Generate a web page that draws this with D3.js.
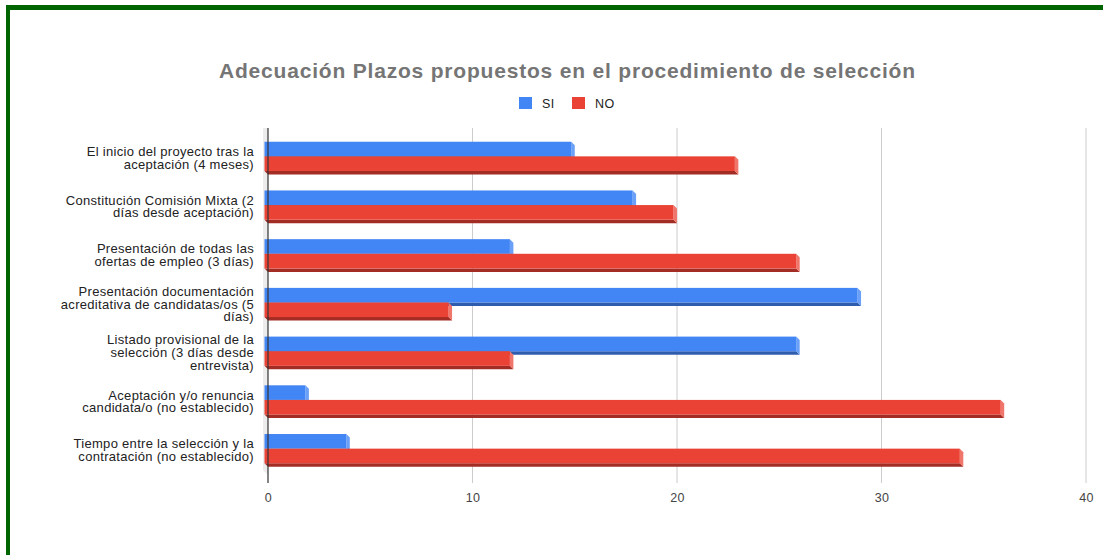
<!DOCTYPE html>
<html><head><meta charset="utf-8">
<script src="https://cdn.jsdelivr.net/npm/d3@7"></script>
<style>
html,body{margin:0;padding:0;background:#fff;}
svg{display:block;font-family:"Liberation Sans",Arial,sans-serif;}
</style></head>
<body>
<svg id="chart" width="1103" height="555"></svg>
<script>
const categories = [
  ["El inicio del proyecto tras la","aceptación (4 meses)"],
  ["Constitución Comisión Mixta (2","días desde aceptación)"],
  ["Presentación de todas las","ofertas de empleo (3 días)"],
  ["Presentación documentación","acreditativa de candidatas/os (5","días)"],
  ["Listado provisional de la","selección (3 días desde","entrevista)"],
  ["Aceptación y/o renuncia","candidata/o (no establecido)"],
  ["Tiempo entre la selección y la","contratación (no establecido)"]
];
const seriesNames = ["SI","NO"];
const siValues = [15, 18, 12, 29, 26, 2, 4];
const noValues = [23, 20, 26, 9, 12, 36, 34];
const xTicks = [0, 10, 20, 30, 40];
const title = "Adecuación Plazos propuestos en el procedimiento de selección";

const colors = {
  SI: {front:"#4285f4", bottom:"#2f5cad", side:"#6aa0f7"},
  NO: {front:"#ea4335", bottom:"#a32c24", side:"#f0756a"}
};

const svg = d3.select("#chart");
const W = 1103, H = 555;
const catKeys = categories.map((c,i)=>String(i));

const x = d3.scaleLinear().domain([0,40]).range([268,1086]);
const y = d3.scaleBand().domain(catKeys).range([132,473]).paddingInner(0.4).paddingOuter(0.2);
const ySub = d3.scaleBand().domain(seriesNames).range([0,y.bandwidth()]);
const D = 3.5; // 3D depth
const plotTop = 128, plotBot = 483;

// border
svg.append("rect").attr("x",6).attr("y",5).attr("width",W-6).attr("height",5).attr("fill","#006400");
svg.append("rect").attr("x",6).attr("y",5).attr("width",4).attr("height",H-5).attr("fill","#006400");

// title
svg.append("text").attr("x",219).attr("y",78)
  .attr("font-size",21).attr("font-weight","bold").attr("fill","#757575")
  .attr("textLength",696).attr("lengthAdjust","spacing").text(title);

// legend
const legend = [{name:"SI",x:519,tx:542},{name:"NO",x:572,tx:595}];
legend.forEach(l=>{
  svg.append("rect").attr("x",l.x).attr("y",97).attr("width",13).attr("height",12).attr("fill",colors[l.name].front);
  svg.append("text").attr("x",l.tx).attr("y",107.5).attr("font-size",12.5).attr("fill","#222")
    .attr("letter-spacing",0.5).text(l.name);
});

// left wall
svg.append("polygon").attr("points",`${x(0)-5},${plotTop} ${x(0)},${plotTop} ${x(0)},${plotBot-8} ${x(0)-5},${plotBot-13}`).attr("fill","#ececec");

// gridlines
svg.append("g").selectAll("line").data(xTicks.filter(t=>t>0)).join("line")
  .attr("x1",d=>x(d)).attr("x2",d=>x(d)).attr("y1",plotTop).attr("y2",plotBot)
  .attr("stroke","#cccccc").attr("stroke-width",1);

// tick labels via axis
const xAxis = d3.axisBottom(x).tickValues(xTicks).tickSize(0).tickPadding(0);
const gx = svg.append("g").attr("transform",`translate(0,${plotBot+2})`).call(xAxis);
gx.select(".domain").remove();
gx.selectAll("text").attr("font-size",12.5).attr("fill","#444").attr("dy","0").attr("y",17)
  .attr("letter-spacing",0.4)
  .style("font-family","'Liberation Sans',Arial,sans-serif");

// bars
function bar3d(g, v, y0, h, c){
  const x0 = x(0) - D, x1 = x(v) - D;
  const y1 = y0 + h;
  g.append("polygon").attr("points",`${x0},${y1} ${x1},${y1} ${x1+D},${y1+D} ${x0+D},${y1+D}`).attr("fill",c.bottom);
  g.append("polygon").attr("points",`${x1},${y0} ${x1+D},${y0+D} ${x1+D},${y1+D} ${x1},${y1}`).attr("fill",c.side);
  g.append("rect").attr("x",x0).attr("y",y0).attr("width",Math.max(0,x1-x0)).attr("height",h).attr("fill",c.front);
}
const barsG = svg.append("g");
catKeys.forEach((k,i)=>{
  const vals = {SI:siValues[i], NO:noValues[i]};
  seriesNames.forEach(s=>{
    bar3d(barsG, vals[s], y(k)+ySub(s), ySub.bandwidth(), colors[s]);
  });
});

// zero line
svg.append("line").attr("x1",x(0)).attr("x2",x(0)).attr("y1",plotTop).attr("y2",plotBot)
  .attr("stroke","#333").attr("stroke-width",1.2);

// category labels
const lh = 12.8;
catKeys.forEach((k,i)=>{
  const lines = categories[i];
  const cy = y(k) + y.bandwidth()/2 + 1.5;
  const t = svg.append("text").attr("text-anchor","end").attr("font-size",13).attr("fill","#222")
    .attr("letter-spacing",0.3);
  lines.forEach((ln,j)=>{
    t.append("tspan").attr("x",254).attr("y", cy + (j-(lines.length-1)/2)*lh + 4.5).text(ln);
  });
});
</script>
</body></html>
